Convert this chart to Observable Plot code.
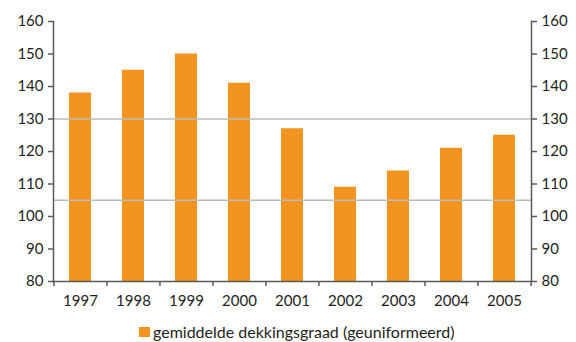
<!DOCTYPE html>
<html>
<head>
<meta charset="utf-8">
<script src="https://cdn.jsdelivr.net/npm/d3@7"></script>
<script src="https://cdn.jsdelivr.net/npm/@observablehq/plot@0.6"></script>
<style>
  html, body { margin: 0; padding: 0; background: #fff; }
  #chart { width: 576px; font-family: Lato, "Open Sans", sans-serif; color: #231f20; }
  .legend { height: 22px; display: flex; align-items: center; justify-content: flex-start;
            padding-left: 139px; padding-top: 11px; font-size: 16px; line-height: 1; }
  .legend .swatch { width: 11px; height: 10px; background: #f39420; margin-right: 3px; }
</style>
</head>
<body>
<div id="chart"></div>
<script>
// Average funding ratio of pension funds (uniform basis), per year
const years = ["1997", "1998", "1999", "2000", "2001", "2002", "2003", "2004", "2005"];
const ratio = [138, 145, 150, 141, 127, 109, 114, 121, 125];
const yTicks = [80, 90, 100, 110, 120, 130, 140, 150, 160];
const refLines = [105, 130];
const seriesLabel = "gemiddelde dekkingsgraad (geuniformeerd)";

const data = years.map((year, i) => ({year, value: ratio[i]}));

const W = 576, H = 310;
const mL = 53, mR = 45, mT = 21, mB = 29;
const step = (W - mL - mR) / years.length;
const orange = "#f39420";
const axisColor = "#5a5a5a";

const plot = Plot.plot({
  width: W,
  height: H,
  marginLeft: mL,
  marginRight: mR,
  marginTop: mT,
  marginBottom: mB,
  style: {fontFamily: "Lato, 'Open Sans', sans-serif", fontSize: "15px", color: "#231f20", background: "#fff"},
  x: {domain: years, paddingInner: 0.585, paddingOuter: 0.2925, align: 0.5},
  y: {domain: [80, 160]},
  marks: [
    Plot.barY(data, {x: "year", y1: 80, y2: "value", fill: orange}),
    Plot.ruleY(refLines, {stroke: "#b9bdb9", strokeWidth: 1.5}),
    Plot.ruleY([80], {stroke: axisColor, strokeWidth: 1.5}),
    Plot.frame({anchor: "left", stroke: axisColor, strokeWidth: 1.5}),
    Plot.frame({anchor: "right", stroke: axisColor, strokeWidth: 1.5}),
    // category boundary ticks below the baseline
    Plot.ruleX(years, {x: d => d, dx: -step / 2, y1: 80, y2: 80, insetBottom: -5, stroke: axisColor, strokeWidth: 1.5}),
    Plot.ruleX(years.slice(-1), {x: d => d, dx: step / 2, y1: 80, y2: 80, insetBottom: -5, stroke: axisColor, strokeWidth: 1.5}),
    Plot.axisY({anchor: "left", ticks: yTicks, tickSize: 5, tickPadding: 5, stroke: axisColor, strokeWidth: 1.5, fill: "#231f20", label: null}),
    Plot.axisY({anchor: "right", ticks: yTicks, tickSize: 5, tickPadding: 5, stroke: axisColor, strokeWidth: 1.5, fill: "#231f20", label: null}),
    Plot.axisX({tickSize: 0, tickPadding: 14, fill: "#231f20", label: null})
  ]
});

const root = document.getElementById("chart");
root.appendChild(plot);

const legend = document.createElement("div");
legend.className = "legend";
const sw = document.createElement("span");
sw.className = "swatch";
const txt = document.createElement("span");
txt.textContent = seriesLabel;
legend.appendChild(sw);
legend.appendChild(txt);
root.appendChild(legend);
</script>
</body>
</html>
